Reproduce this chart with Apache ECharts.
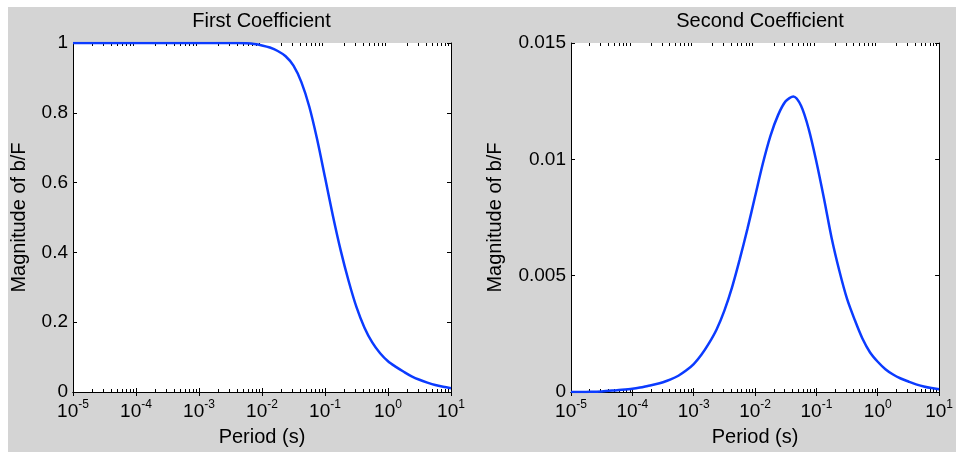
<!DOCTYPE html>
<html><head><meta charset="utf-8">
<script src="https://cdn.jsdelivr.net/npm/echarts@6/dist/echarts.min.js"></script>
<style>html,body{margin:0;padding:0;background:#fff;width:956px;height:452px;overflow:hidden}
#c{position:absolute;left:8px;top:7px;width:948px;height:445px}</style>
</head><body><div id="c"></div>
<script>
// ---- data ----
const periods = [1e-5, 1.778e-5, 3.162e-5, 5.623e-5,
  1e-4, 1.334e-4, 1.778e-4, 2.371e-4, 3.162e-4, 4.217e-4, 5.623e-4, 7.499e-4,
  1e-3, 1.334e-3, 1.778e-3, 2.371e-3, 3.162e-3, 4.217e-3, 5.623e-3, 7.499e-3,
  1e-2, 1.334e-2, 1.778e-2, 2.371e-2, 3.162e-2, 4.217e-2, 5.623e-2, 7.499e-2,
  0.1, 0.1334, 0.1778, 0.2371, 0.3162, 0.4217, 0.5623, 0.7499,
  1, 1.334, 1.778, 2.371, 3.162, 4.217, 5.623, 7.499, 10];
const firstCoef = [1, 1, 1, 1,
  1, 1, 1, 1, 1, 1, 1, 1,
  1, 1, 1, 1, 1, 1, 0.999, 0.997,
  0.993, 0.987, 0.977, 0.962, 0.935, 0.888, 0.818, 0.724,
  0.615, 0.505, 0.405, 0.318, 0.243, 0.185, 0.142, 0.111,
  0.088, 0.072, 0.058, 0.045, 0.035, 0.027, 0.020, 0.015, 0.011];
const secondCoef = [0, 0.000005, 0.00002, 0.00008,
  0.00014, 0.00019, 0.00026, 0.00033, 0.00042, 0.00054, 0.00070, 0.00092,
  0.0012, 0.0016, 0.0021, 0.0027, 0.0035, 0.0045, 0.0057, 0.0070,
  0.0084, 0.0098, 0.0110, 0.0119, 0.0125, 0.0127, 0.0123, 0.0113,
  0.0099, 0.0083, 0.0066, 0.0052, 0.0040, 0.0031, 0.0023, 0.0017,
  0.0013, 0.00098, 0.00075, 0.00058, 0.00045, 0.00033, 0.00024, 0.00017, 0.00012];
const xMin = 1e-5, xMax = 10;
const firstYMax = 1, firstYStep = 0.2;
const secondYMax = 0.015, secondYStep = 0.005;
const titles = ['First Coefficient', 'Second Coefficient'];
const xName = 'Period (s)';
const yName = 'Magnitude of b/F';
const minorMultiples = [2, 3, 4, 5, 6, 7, 8, 9];
const decades = [1e-5, 1e-4, 1e-3, 1e-2, 1e-1, 1];

const minorTicks = [];
decades.forEach(d => minorMultiples.forEach(m => minorTicks.push([m * d, 0])));

const FONT = '"Liberation Sans", Arial, Helvetica, sans-serif';
const LINE_COLOR = '#0b3bff';

const chart = echarts.init(document.getElementById('c'), null, {renderer: 'canvas'});

const grids = [
  {left: 64, top: 36, width: 379, height: 351},
  {left: 563, top: 36, width: 378, height: 351}
];

function xAxes(gi) {
  const common = {
    type: 'log', logBase: 10, min: xMin, max: xMax, splitNumber: 6, gridIndex: gi,
    axisLine: {show: true, lineStyle: {color: '#000', width: 1}},
    axisTick: {show: true, inside: true, length: 4, lineStyle: {color: '#000'}},
    splitLine: {show: false}, minorTick: {show: false}, minorSplitLine: {show: false}
  };
  return [
    Object.assign({}, common, {
      position: 'bottom',
      name: xName, nameLocation: 'middle', nameGap: 35,
      nameTextStyle: {fontFamily: FONT, fontSize: 20, color: '#000'},
      axisLabel: {
        show: true, margin: 7, color: '#000',
        formatter: v => '{b|10}{s|' + Math.round(Math.log10(v)) + '}',
        rich: {
          b: {fontFamily: FONT, fontSize: 19, color: '#000', lineHeight: 26, verticalAlign: 'middle'},
          s: {fontFamily: FONT, fontSize: 12, color: '#000', lineHeight: 8, verticalAlign: 'top'}
        }
      }
    }),
    Object.assign({}, common, {position: 'top', axisLabel: {show: false}})
  ];
}

function yAxes(gi, max, step, gap) {
  const common = {
    type: 'value', min: 0, max: max, interval: step, gridIndex: gi,
    axisLine: {show: true, lineStyle: {color: '#000', width: 1}},
    axisTick: {show: true, inside: true, length: 4, lineStyle: {color: '#000'}},
    splitLine: {show: false}
  };
  return [
    Object.assign({}, common, {
      position: 'left',
      name: yName, nameLocation: 'middle', nameGap: gap, nameRotate: 90,
      nameTextStyle: {fontFamily: FONT, fontSize: 20, color: '#000'},
      axisLabel: {show: true, margin: 5, color: '#000', fontFamily: FONT, fontSize: 19}
    }),
    Object.assign({}, common, {position: 'right', axisLabel: {show: false}})
  ];
}

function minorTickSeries(gi) {
  return {
    type: 'custom', xAxisIndex: gi * 2, yAxisIndex: gi * 2, silent: true, z: 1,
    data: minorTicks,
    renderItem: function (params, api) {
      const p = api.coord([api.value(0), 0]);
      const cs = params.coordSys;
      const x = Math.round(p[0]) + 0.5;
      const yb = cs.y + cs.height, yt = cs.y;
      return {type: 'group', children: [
        {type: 'line', shape: {x1: x, y1: yb, x2: x, y2: yb - 3}, style: {stroke: '#000', lineWidth: 1}},
        {type: 'line', shape: {x1: x, y1: yt, x2: x, y2: yt + 3}, style: {stroke: '#000', lineWidth: 1}}
      ]};
    }
  };
}

const option = {
  backgroundColor: '#d4d4d4',
  animation: false,
  graphic: titles.map((t, i) => ({
    type: 'text', x: grids[i].left + grids[i].width / 2, y: 14,
    style: {text: t, font: '20px ' + FONT, fill: '#000', align: 'center', verticalAlign: 'middle', textAlign: 'center', textVerticalAlign: 'middle'}
  })),
  grid: grids.map(g => Object.assign({show: true, backgroundColor: '#fff', borderWidth: 0, containLabel: false}, g)),
  xAxis: [].concat(xAxes(0), xAxes(1)),
  yAxis: [].concat(yAxes(0, firstYMax, firstYStep, 44), yAxes(1, secondYMax, secondYStep, 66)),
  series: [
    {type: 'line', xAxisIndex: 0, yAxisIndex: 0, data: periods.map((p, i) => [p, firstCoef[i]]),
     showSymbol: false, smooth: 0.3, lineStyle: {color: LINE_COLOR, width: 2.5}, z: 3},
    {type: 'line', xAxisIndex: 2, yAxisIndex: 2, data: periods.map((p, i) => [p, secondCoef[i]]),
     showSymbol: false, smooth: 0.3, lineStyle: {color: LINE_COLOR, width: 2.5}, z: 3},
    minorTickSeries(0),
    minorTickSeries(1)
  ]
};
chart.setOption(option);
</script></body></html>
